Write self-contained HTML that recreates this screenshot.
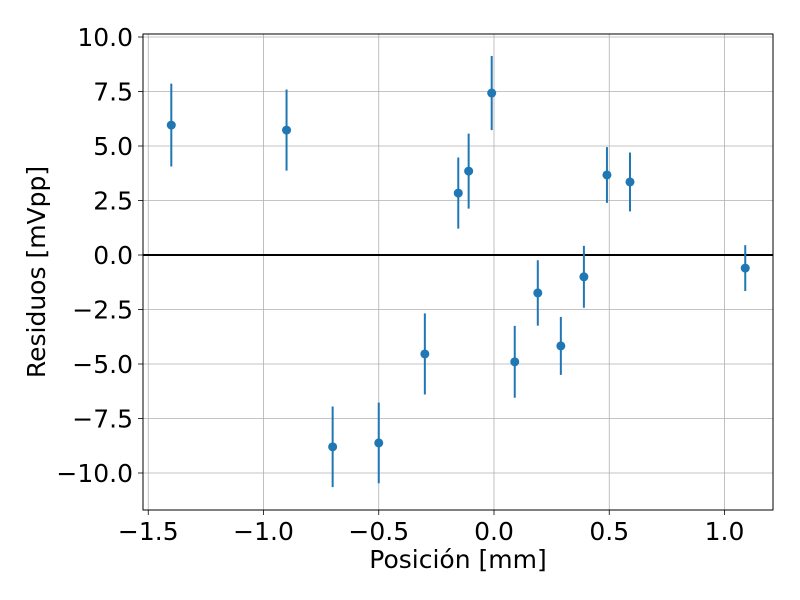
<!DOCTYPE html>
<html><head><meta charset="utf-8"><style>
html,body{margin:0;padding:0;background:#fff;}
svg{display:block;font-family:"DejaVu Sans","Liberation Sans",sans-serif;}
</style></head><body>
<svg id="chart" width="800" height="600"></svg>
<script>
const xValues=[-1.4,-0.9,-0.70,-0.50,-0.30,-0.155,-0.11,-0.01,0.09,0.19,0.29,0.39,0.49,0.59,1.09];
const yValues=[5.96,5.73,-8.8,-8.62,-4.54,2.84,3.85,7.43,-4.9,-1.74,-4.17,-1.0,3.67,3.35,-0.6];
const yErrors=[1.9,1.86,1.85,1.85,1.86,1.63,1.72,1.7,1.65,1.5,1.33,1.42,1.28,1.35,1.05];
const xTicks=[-1.5,-1.0,-0.5,0.0,0.5,1.0];
const xTickLabels=["\u22121.5","\u22121.0","\u22120.5","0.0","0.5","1.0"];
const yTicks=[10,7.5,5,2.5,0,-2.5,-5,-7.5,-10];
const yTickLabels=["10.0","7.5","5.0","2.5","0.0","\u22122.5","\u22125.0","\u22127.5","\u221210.0"];

const NS="http://www.w3.org/2000/svg";
const svg=document.getElementById('chart');
const L=143,R=773,T=34,B=510;
const sx=v=>494+v*230.5;
const sy=v=>255-v*21.8;
function mk(tag,attrs,parent){const e=document.createElementNS(NS,tag);for(const k in attrs)e.setAttribute(k,attrs[k]);(parent||svg).appendChild(e);return e;}

const grid=mk('g',{});


xTicks.forEach((t,i)=>{
  const x=sx(t);
  mk('line',{x1:x,x2:x,y1:T,y2:B,stroke:'#b0b0b0','stroke-width':0.8},grid);
  mk('line',{x1:x,x2:x,y1:B,y2:B+5,stroke:'#000','stroke-width':0.8});
  const tx=mk('text',{x:x,y:B+30,'text-anchor':'middle','font-size':25,fill:'#000'});
  tx.textContent=xTickLabels[i];
  
  
});
yTicks.forEach((t,i)=>{
  const y=sy(t);
  mk('line',{x1:L,x2:R,y1:y,y2:y,stroke:'#b0b0b0','stroke-width':0.8},grid);
  mk('line',{x1:L-5,x2:L,y1:y,y2:y,stroke:'#000','stroke-width':0.8});
  const tx=mk('text',{x:L-10,y:y+9,'text-anchor':'end','font-size':25,fill:'#000'});
  tx.textContent=yTickLabels[i];
  
  
});
const zl=mk('line',{x1:L,x2:R,y1:sy(0),y2:sy(0),stroke:'#000','stroke-width':2});



const pts=mk('g',{});


xValues.forEach((xv,i)=>{
  const x=sx(xv),y=sy(yValues[i]);
  const eb=mk('line',{x1:x,x2:x,y1:sy(yValues[i]+yErrors[i]),y2:sy(yValues[i]-yErrors[i]),stroke:'#1f77b4','stroke-width':2},pts);
  
  
  const c=mk('circle',{cx:x,cy:y,r:4.5,fill:'#1f77b4'},pts);
  
  
});

const frame=mk('rect',{x:L,y:T,width:R-L,height:B-T,fill:'none',stroke:'#000','stroke-width':1});



const xl=mk('text',{x:458,y:568,'text-anchor':'middle','font-size':25,fill:'#000'});
xl.textContent='Posición [mm]';


const yl=mk('text',{x:0,y:0,'text-anchor':'middle','font-size':25,fill:'#000',transform:`translate(45,${(T+B)/2}) rotate(-90)`});
yl.textContent='Residuos [mVpp]';


</script>
</body></html>
